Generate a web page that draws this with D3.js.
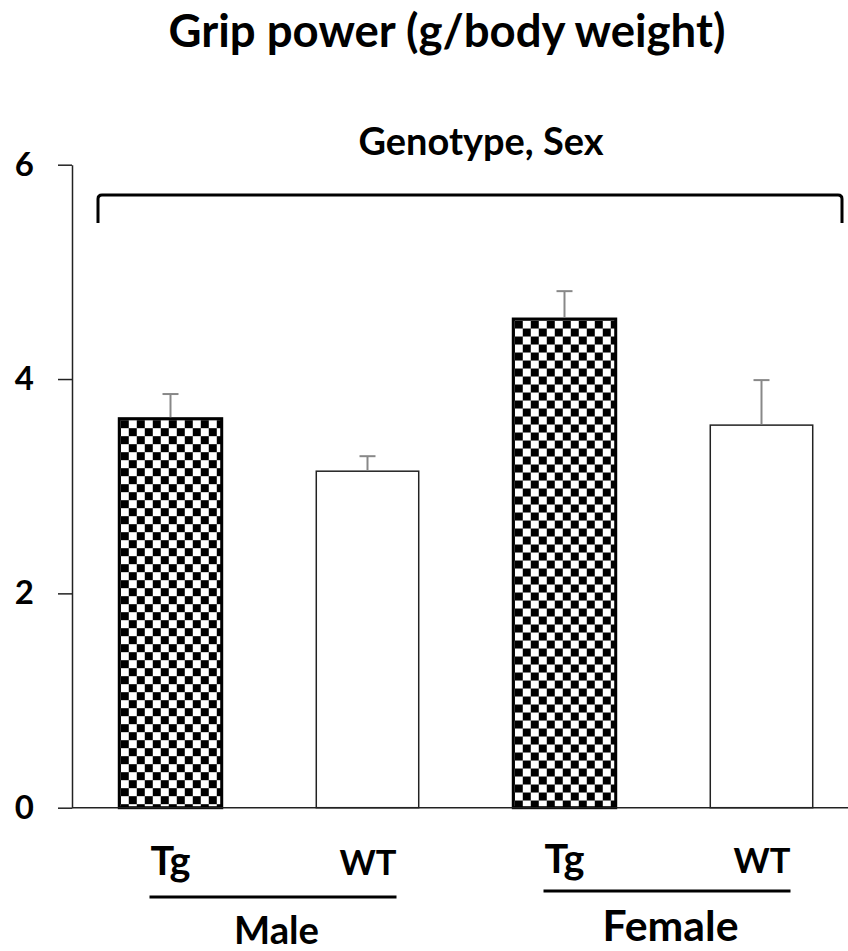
<!DOCTYPE html>
<html lang="en">
<head>
   <meta charset="UTF-8">
   <title>Grip power</title>
   <script src="https://cdn.jsdelivr.net/npm/d3@7"></script>
   <style>
      body { margin: 0; background: #fff; }
      text { font-family: Lato, 'Open Sans', sans-serif; font-weight: bold; fill: #000; }
   </style>
</head>
<body>
   <div class="d3"></div>
   <script>
      // data
      const categories = ['Male Tg', 'Male WT', 'Female Tg', 'Female WT']
      const genotypes = ['Tg', 'WT', 'Tg', 'WT']
      const sexes = ['Male', 'Female']
      const means = [3.63, 3.14, 4.56, 3.57]
      const errors = [0.23, 0.14, 0.26, 0.42]
      const yTicks = [0, 2, 4, 6]

      const WIDTH = 848
      const HEIGHT = 951

      const svg = d3.select('.d3').append('svg')
         .attr('width', WIDTH)
         .attr('height', HEIGHT)

      const x = d3.scaleBand()
         .domain(categories)
         .range([72, 860])
         .paddingInner(0.48)
         .paddingOuter(0.24)

      const y = d3.scaleLinear()
         .domain([0, 6])
         .range([807.7, 164.7])

      // scale a text's font so that it spans the wanted width
      function fit(sel, w) {
         const len = sel.node().getComputedTextLength()
         const fs = parseFloat(sel.attr('font-size'))
         sel.attr('font-size', fs * w / len)
         return sel
      }

      // title
      fit(svg.append('text')
         .attr('x', 447).attr('y', 47)
         .attr('text-anchor', 'middle')
         .attr('font-size', 36)
         .text('Grip power (g/body weight)'), 557)

      // checker patterns, one per Tg bar so they start at the bar edge
      const defs = svg.append('defs')
      const CELL = 8
      categories.forEach((c, i) => {
         if (genotypes[i] !== 'Tg') return
         const p = defs.append('pattern')
            .attr('id', 'chk' + i)
            .attr('patternUnits', 'userSpaceOnUse')
            .attr('width', CELL * 2).attr('height', CELL * 2)
            .attr('patternTransform', `translate(${x(c) + 1.5}, ${y(means[i]) + 1.5})`)
         p.append('rect').attr('width', CELL * 2).attr('height', CELL * 2).attr('fill', '#fff')
         p.append('rect').attr('width', CELL).attr('height', CELL).attr('fill', '#000')
         p.append('rect').attr('x', CELL).attr('y', CELL).attr('width', CELL).attr('height', CELL).attr('fill', '#000')
      })

      // y axis
      const yAxis = svg.append('g')
         .attr('transform', 'translate(72,0)')
         .call(d3.axisLeft(y).tickValues(yTicks).tickFormat(d3.format('d'))
            .tickSize(14).tickSizeOuter(0).tickPadding(24))
      yAxis.select('.domain').attr('stroke', '#222').attr('stroke-width', 1.5)
      yAxis.selectAll('.tick line').attr('stroke', '#222').attr('stroke-width', 1.5)
      yAxis.selectAll('.tick text')
         .attr('font-size', 33)
         .attr('font-family', 'Lato, sans-serif')
         .attr('font-weight', 'bold')
         .attr('fill', '#000')

      // bars
      svg.append('g').selectAll('rect')
         .data(categories)
         .join('rect')
         .attr('x', d => x(d))
         .attr('y', (d, i) => y(means[i]))
         .attr('width', x.bandwidth())
         .attr('height', (d, i) => y(0) - y(means[i]))
         .attr('fill', (d, i) => genotypes[i] === 'Tg' ? `url(#chk${i})` : '#fff')
         .attr('stroke', (d, i) => genotypes[i] === 'Tg' ? '#000' : '#222')
         .attr('stroke-width', (d, i) => genotypes[i] === 'Tg' ? 3 : 1.5)

      // error bars (upper only)
      const eb = svg.append('g').attr('stroke', '#888').attr('stroke-width', 2)
      categories.forEach((c, i) => {
         const cx = x(c) + x.bandwidth() / 2
         eb.append('line')
            .attr('x1', cx).attr('x2', cx)
            .attr('y1', y(means[i]) - (genotypes[i] === 'Tg' ? 1.5 : 0.75))
            .attr('y2', y(means[i] + errors[i]))
         eb.append('line')
            .attr('x1', cx - 8).attr('x2', cx + 8)
            .attr('y1', y(means[i] + errors[i])).attr('y2', y(means[i] + errors[i]))
      })

      // x baseline
      svg.append('line')
         .attr('x1', 72).attr('x2', WIDTH)
         .attr('y1', y(0)).attr('y2', y(0))
         .attr('stroke', '#222').attr('stroke-width', 1.5)

      // bracket over all bars
      const bx0 = 98, bx1 = 842, by0 = 195, by1 = 223, r = 4
      svg.append('path')
         .attr('d', `M${bx0},${by1} V${by0 + r} Q${bx0},${by0} ${bx0 + r},${by0} H${bx1 - r} Q${bx1},${by0} ${bx1},${by0 + r} V${by1}`)
         .attr('fill', 'none')
         .attr('stroke', '#000')
         .attr('stroke-width', 3)

      fit(svg.append('text')
         .attr('x', 481).attr('y', 155)
         .attr('text-anchor', 'middle')
         .attr('font-size', 28)
         .text('Genotype, Sex'), 245)

      // genotype labels and sex groups
      const groupY = [897, 891]
      const labelY = [875, 873]
      const sexY = [944, 941]
      sexes.forEach((s, k) => {
         const cTg = categories[k * 2], cWT = categories[k * 2 + 1]
         const left = x(cTg) + x.bandwidth() / 2 - 20
         const right = x(cWT) + x.bandwidth() / 2 + 29
         fit(svg.append('text')
            .attr('x', left).attr('y', labelY[k])
            .attr('font-size', 32)
            .text(genotypes[k * 2]), 40)
         fit(svg.append('text')
            .attr('x', right).attr('y', labelY[k])
            .attr('text-anchor', 'end')
            .attr('font-size', 32)
            .text(genotypes[k * 2 + 1]), 57)
         svg.append('line')
            .attr('x1', left - 1).attr('x2', right)
            .attr('y1', groupY[k]).attr('y2', groupY[k])
            .attr('stroke', '#000').attr('stroke-width', 3)
         fit(svg.append('text')
            .attr('x', (left + right) / 2 + 3).attr('y', sexY[k])
            .attr('text-anchor', 'middle')
            .attr('font-size', 32)
            .text(s), k === 0 ? 85 : 136)
      })
   </script>
</body>
</html>
